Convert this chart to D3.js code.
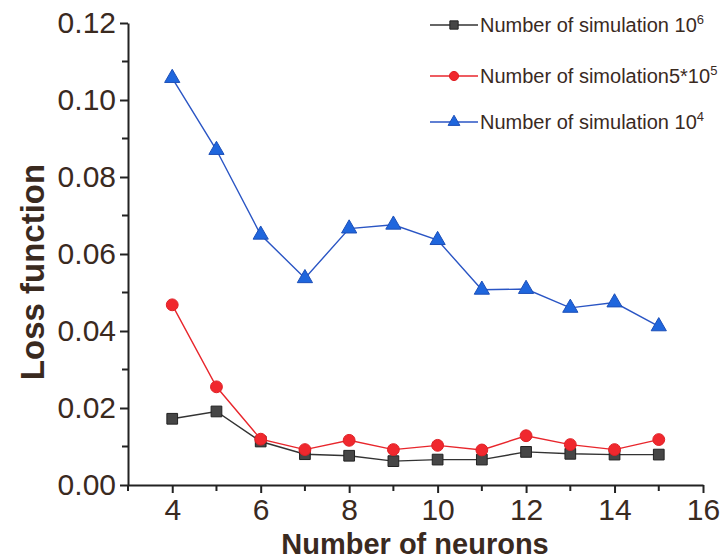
<!DOCTYPE html>
<html>
<head>
<meta charset="utf-8">
<script src="https://cdn.jsdelivr.net/npm/d3@7"></script>
<style>
body { margin: 0; background: #fff; }
text { font-family: "Liberation Sans", Arial, sans-serif; }
</style>
</head>
<body>
<svg id="graph" width="721" height="559"></svg>
<script>
// neurons on the x axis
var neurons = [4, 5, 6, 7, 8, 9, 10, 11, 12, 13, 14, 15];
var sim1e6 = [0.0172, 0.0191, 0.0113, 0.0080, 0.0076, 0.0062, 0.0066, 0.0066, 0.0086, 0.0081, 0.0079, 0.0079];
var sim5e5 = [0.0468, 0.0255, 0.0119, 0.0092, 0.0116, 0.0092, 0.0103, 0.0091, 0.0128, 0.0105, 0.0092, 0.0118];
var sim1e4 = [0.1057, 0.0870, 0.0650, 0.0537, 0.0666, 0.0676, 0.0636, 0.0507, 0.0509, 0.0460, 0.0474, 0.0412];
var xTicks = [4, 6, 8, 10, 12, 14, 16];
var yTicks = [0, 0.02, 0.04, 0.06, 0.08, 0.10, 0.12];
var legendNames = ["Number of simulation 10", "Number of simolation5*10", "Number of simulation 10"];
var legendSups = ["6", "5", "4"];

var textColor = "#3a2a1f";
var series = [
    {vals: sim1e6, line: "#333333", fill: "#464646", stroke: "#222222", sym: d3.symbolSquare, size: 115},
    {vals: sim5e5, line: "#e8262c", fill: "#f0282e", stroke: "#e02025", sym: d3.symbolCircle, size: 110},
    {vals: sim1e4, line: "#2a55c4", fill: "#1f66dd", stroke: "#1c4fb8", sym: d3.symbolTriangle, size: 100}
];

var svg = d3.select("#graph");
var x = d3.scaleLinear().domain([3, 16]).range([128, 703]);
var y = d3.scaleLinear().domain([0, 0.12]).range([485, 23]);

// minor ticks
var minorX = d3.range(3, 16, 2);
var minorY = d3.range(0.01, 0.12, 0.02);

svg.append("g").selectAll("line").data(minorX).enter().append("line")
    .attr("x1", function(d) {return x(d);}).attr("x2", function(d) {return x(d);})
    .attr("y1", 485).attr("y2", 491)
    .attr("stroke", "#222").attr("stroke-width", 2);
svg.append("g").selectAll("line").data(minorY).enter().append("line")
    .attr("y1", function(d) {return y(d);}).attr("y2", function(d) {return y(d);})
    .attr("x1", 128).attr("x2", 122)
    .attr("stroke", "#222").attr("stroke-width", 2);

var xAxis = svg.append("g")
    .attr("transform", "translate(0,485)")
    .call(d3.axisBottom(x).tickValues(xTicks).tickSize(8).tickSizeOuter(0).tickFormat(d3.format("d")));
var yAxis = svg.append("g")
    .attr("transform", "translate(128,0)")
    .call(d3.axisLeft(y).tickValues(yTicks).tickSize(8).tickSizeOuter(0).tickFormat(d3.format(".2f")));

[xAxis, yAxis].forEach(function(g) {
    g.select(".domain").attr("stroke", "#222").attr("stroke-width", 2);
    g.selectAll(".tick line").attr("stroke", "#222").attr("stroke-width", 2);
    g.selectAll(".tick text").attr("fill", textColor).style("font-size", "30px")
        .style("font-family", "'Liberation Sans', Arial, sans-serif");
});
xAxis.selectAll(".tick text").attr("dy", "0.8em");
yAxis.selectAll(".tick text").attr("x", -12);

svg.append("text")
    .attr("x", 415).attr("y", 554)
    .attr("text-anchor", "middle")
    .attr("fill", textColor)
    .style("font-size", "29px").style("font-weight", "bold")
    .text("Number of neurons");
svg.append("text")
    .attr("transform", "translate(44,272) rotate(-90)")
    .attr("text-anchor", "middle")
    .attr("fill", textColor)
    .style("font-size", "33px").style("font-weight", "bold")
    .text("Loss function");

var line = d3.line()
    .x(function(d) {return x(d[0]);})
    .y(function(d) {return y(d[1]);});

series.forEach(function(s) {
    var pts = neurons.map(function(n, i) {return [n, s.vals[i]];});
    svg.append("path").datum(pts)
        .attr("d", line)
        .attr("fill", "none")
        .attr("stroke", s.line)
        .attr("stroke-width", 1.4);
    svg.append("g").selectAll("path").data(pts).enter().append("path")
        .attr("d", d3.symbol().type(s.sym).size(s.size))
        .attr("transform", function(d) {return "translate(" + x(d[0]) + "," + y(d[1]) + ")";})
        .attr("fill", s.fill)
        .attr("stroke", s.stroke)
        .attr("stroke-width", 1);
});

// legend
var legendY = [25, 76, 122];
series.forEach(function(s, i) {
    var g = svg.append("g").attr("transform", "translate(0," + legendY[i] + ")");
    g.append("line").attr("x1", 430).attr("x2", 478).attr("y1", 0).attr("y2", 0)
        .attr("stroke", s.line).attr("stroke-width", 1.4);
    g.append("path").attr("d", d3.symbol().type(s.sym).size(s.size * 0.6))
        .attr("transform", "translate(454,0)")
        .attr("fill", s.fill).attr("stroke", s.stroke);
    var t = g.append("text").attr("x", 480).attr("y", 7)
        .attr("fill", textColor)
        .style("font-size", "20px");
    t.append("tspan").text(legendNames[i]);
    t.append("tspan").attr("dy", -8).style("font-size", "13px").text(legendSups[i]);
});
</script>
</body>
</html>
